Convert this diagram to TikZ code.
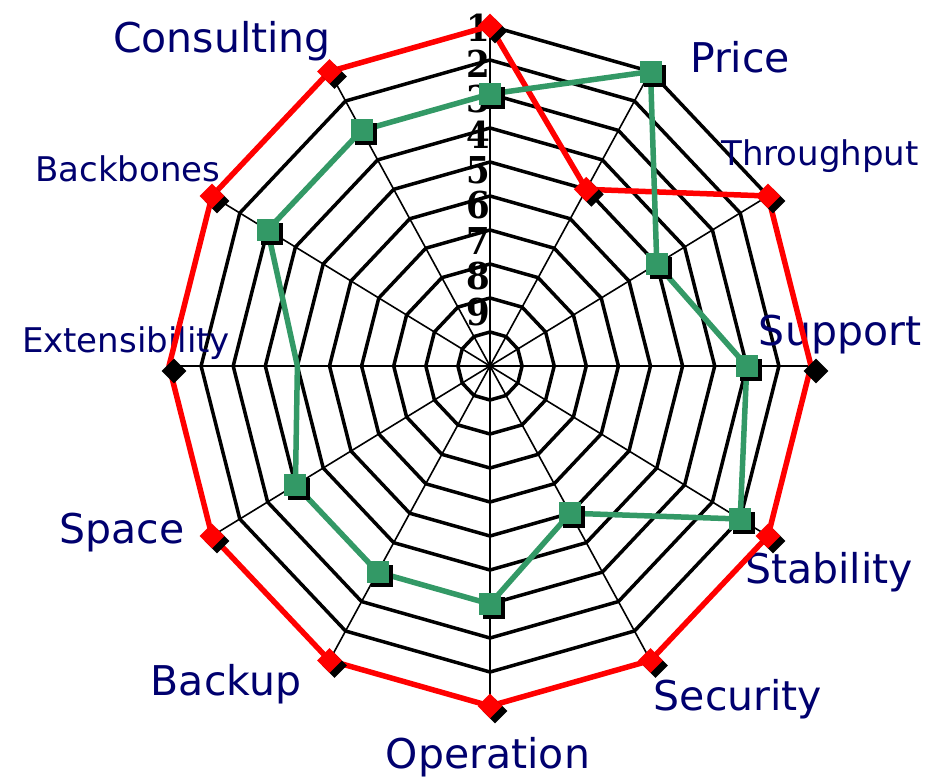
\documentclass[tikz,border=0pt]{standalone}
\usepackage{fontspec}
\usepackage{xcolor}
\usepackage{tikz}
\usetikzlibrary{shapes.geometric,shadows}
\newfontfamily\labelfont{DejaVu Sans}
\newfontfamily\numfont[FakeStretch=0.92]{DejaVu Serif}
\definecolor{labelnavy}{RGB}{0,0,110}
\definecolor{seriesgreen}{RGB}{51,153,102}

\begin{document}
\begin{tikzpicture}[x=1pt,y=-1pt]
        % Define styles
        \tikzset{
            ring/.style={draw=black, line width=3.5pt, line join=miter},
            spoke/.style={draw=black, line width=1.6pt},
            axislabel/.style={text=labelnavy, font=\labelfont\fontsize{41}{41}\selectfont, inner sep=0pt, anchor=base},
            smalllabel/.style={axislabel, font=\labelfont\fontsize{34}{34}\selectfont},
            ringnum/.style={font=\numfont\fontsize{37}{37}\selectfont\bfseries, inner sep=0pt, anchor=east},
            redline/.style={draw=red, line width=5.5pt, line join=round},
            greenline/.style={draw=seriesgreen, line width=5.5pt, line join=round},
            redmark/.style={diamond, fill=red, minimum size=25pt, inner sep=0pt,
                drop shadow={shadow xshift=5pt, shadow yshift=-5pt, fill=black, opacity=1}},
            blackmark/.style={diamond, fill=black, minimum size=25pt, inner sep=0pt},
            greenmark/.style={rectangle, fill=seriesgreen, minimum size=22pt, inner sep=0pt,
                drop shadow={shadow xshift=4pt, shadow yshift=-4pt, fill=black, opacity=1}}
        }
        \useasboundingbox (0,0) rectangle (941,778);
        \def\cx{490} \def\cy{366} \def\ux{32.1} \def\uy{34}

        % Grid
        \coordinate (ctr) at (\cx,\cy);
        \foreach \k in {1,...,10} {
            \draw[ring] ({\cx+\ux*\k*cos(90)},{\cy-\uy*\k*sin(90)})
                \foreach \i in {1,...,11} { -- ({\cx+\ux*\k*cos(90-30*\i)},{\cy-\uy*\k*sin(90-30*\i)}) } -- cycle;
        }
        \foreach \i in {0,...,11} {
            \coordinate (axis_\i) at ({\cx+\ux*10*cos(90-30*\i)},{\cy-\uy*10*sin(90-30*\i)});
            \draw[spoke] (ctr) -- (axis_\i);
        }
        \foreach \k in {1,...,9}
            \node[ringnum] (num_\k) at (490,{28+35.5*(\k-1)}) {\k};

        % Labels
        \node[axislabel] (label_consulting) at (222,53) {Consulting};
        \node[axislabel] (label_price) at (740,73) {Price};
        \node[smalllabel] (label_throughput) at (820,165) {Throughput};
        \node[axislabel] (label_support) at (840,345) {Support};
        \node[axislabel] (label_stability) at (829,583) {Stability};
        \node[axislabel] (label_security) at (738,710) {Security};
        \node[axislabel] (label_operation) at (488,768) {Operation};
        \node[axislabel] (label_backup) at (226,695) {Backup};
        \node[axislabel] (label_space) at (122,543) {Space};
        \node[smalllabel] (label_extensibility) at (126,352) {Extensibility};
        \node[smalllabel] (label_backbones) at (128,182) {Backbones};

        % Series
        \foreach \v [count=\i from 0] in {1,5,1,1,1,1,1,1,1,1,1,1}
            \coordinate (red_\i) at ({\cx+\ux*(11-\v)*cos(90-30*\i)},{\cy-\uy*(11-\v)*sin(90-30*\i)});
        \foreach \v [count=\i from 0] in {3,1,5,3,2,6,4,4,4,5,3,3}
            \coordinate (green_\i) at ({\cx+\ux*(11-\v)*cos(90-30*\i)},{\cy-\uy*(11-\v)*sin(90-30*\i)});
        \draw[redline] (red_0) \foreach \i in {1,...,11} { -- (red_\i) } -- cycle;
        \draw[greenline] (green_0) \foreach \i in {1,...,11} { -- (green_\i) } -- cycle;

        % Markers
        \foreach \i in {3,9}
            \node[blackmark] (redmark_\i) at ([shift={(5,5)}]red_\i) {};
        \foreach \i in {0,1,2,4,5,6,7,8,10,11}
            \node[redmark] (redmark_\i) at (red_\i) {};
        \foreach \i in {0,1,2,3,4,5,6,7,8,10,11}
            \node[greenmark] (greenmark_\i) at (green_\i) {};
    \end{tikzpicture}
\end{document}
